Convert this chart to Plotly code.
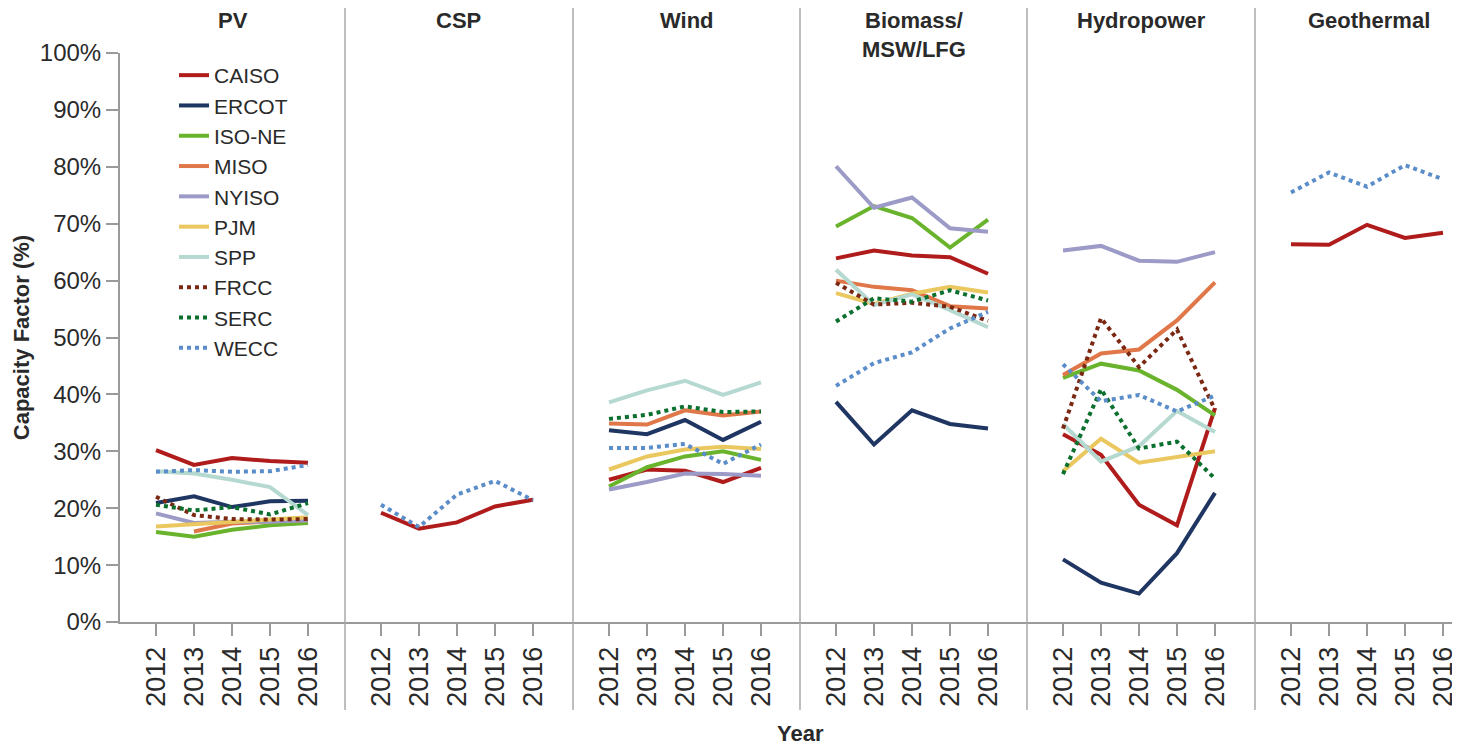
import plotly.graph_objects as go

years = [2012, 2013, 2014, 2015, 2016]

regions = ["CAISO", "ERCOT", "ISO-NE", "MISO", "NYISO", "PJM", "SPP", "FRCC", "SERC", "WECC"]

region_color = {
    "CAISO": "#B01C1C", "ERCOT": "#1F3562", "ISO-NE": "#6AB42D", "MISO": "#E07748",
    "NYISO": "#9C9AC6", "PJM": "#EBC85F", "SPP": "#B5D9D0", "FRCC": "#7B2812",
    "SERC": "#0B6F2E", "WECC": "#5B8DC9",
}
dotted = ["FRCC", "SERC", "WECC"]

# capacity factors (%) by technology and region
pv = {
    "CAISO": [30.2, 27.6, 28.8, 28.3, 28.0],
    "ERCOT": [20.9, 22.1, 20.2, 21.2, 21.3],
    "ISO-NE": [15.8, 15.0, 16.2, 17.0, 17.4],
    "MISO": [None, 15.9, 17.3, 17.7, 17.9],
    "NYISO": [19.1, 17.4, 17.6, 17.6, 17.9],
    "PJM": [16.8, 17.2, 17.6, 18.0, 18.4],
    "SPP": [26.5, 26.1, 25.0, 23.7, 18.8],
    "FRCC": [22.0, 18.8, 18.1, 18.0, 18.1],
    "SERC": [20.6, 19.6, 20.2, 18.9, 20.9],
    "WECC": [26.4, 26.7, 26.4, 26.5, 27.6],
}
csp = {
    "CAISO": [19.2, 16.4, 17.5, 20.3, 21.5],
    "WECC": [20.6, 16.7, 22.4, 24.8, 21.4],
}
wind = {
    "CAISO": [25.0, 26.8, 26.6, 24.6, 27.1],
    "ERCOT": [33.7, 33.0, 35.5, 32.0, 35.2],
    "ISO-NE": [23.8, 27.2, 29.1, 30.0, 28.5],
    "MISO": [34.9, 34.7, 37.2, 36.3, 37.0],
    "NYISO": [23.3, 24.6, 26.1, 26.0, 25.7],
    "PJM": [26.8, 29.1, 30.3, 30.8, 30.4],
    "SPP": [38.6, 40.7, 42.4, 39.9, 42.1],
    "SERC": [35.7, 36.4, 37.9, 36.9, 37.0],
    "WECC": [30.6, 30.6, 31.3, 27.8, 31.2],
}
biomass = {
    "CAISO": [63.9, 65.3, 64.4, 64.1, 61.2],
    "ERCOT": [38.7, 31.2, 37.2, 34.8, 34.0],
    "ISO-NE": [69.5, 73.1, 71.0, 65.8, 70.7],
    "MISO": [60.0, 58.9, 58.3, 55.5, 55.1],
    "NYISO": [80.1, 72.8, 74.6, 69.2, 68.6],
    "PJM": [57.8, 55.9, 57.7, 58.9, 57.9],
    "SPP": [61.9, 55.7, 57.6, 54.8, 51.8],
    "FRCC": [59.6, 55.8, 56.1, 55.4, 52.9],
    "SERC": [52.8, 56.9, 56.3, 58.3, 56.5],
    "WECC": [41.5, 45.5, 47.4, 51.6, 54.5],
}
hydro = {
    "CAISO": [33.0, 29.4, 20.6, 17.0, 37.6],
    "ERCOT": [11.0, 6.9, 5.0, 12.1, 22.7],
    "ISO-NE": [42.9, 45.4, 44.2, 40.8, 36.3],
    "MISO": [43.4, 47.2, 47.9, 53.0, 59.7],
    "NYISO": [65.3, 66.1, 63.5, 63.3, 65.0],
    "PJM": [26.5, 32.2, 28.0, 29.0, 30.0],
    "SPP": [34.8, 28.2, 30.9, 37.1, 33.4],
    "FRCC": [34.0, 53.4, 44.8, 51.4, 37.3],
    "SERC": [26.0, 40.9, 30.5, 31.7, 25.2],
    "WECC": [45.3, 38.8, 39.9, 37.0, 39.8],
}
geothermal = {
    "CAISO": [66.4, 66.3, 69.8, 67.5, 68.4],
    "WECC": [75.5, 79.0, 76.5, 80.3, 77.8],
}

y_ticks = [0, 10, 20, 30, 40, 50, 60, 70, 80, 90, 100]

panels = [("PV", pv), ("CSP", csp), ("Wind", wind), ("Biomass/<br>MSW/LFG", biomass),
          ("Hydropower", hydro), ("Geothermal", geothermal)]

# page puts the figure 8px in from the top-left, so lay out in screen px minus that
OFF = 8
W, H = 1460 - OFF, 746 - OFF
ML, MR, MT, MB = 120 - OFF, 0, 53 - OFF, H - (622 - OFF)
edges = [120, 345, 573, 800, 1027, 1255, 1460 + 22]
step = 38.0  # px per year
first_off = 36.0
axis_grey = "#9a9a9a"
text_col = "#2a2a2a"
font_fam = "Liberation Sans, Arial, sans-serif"

pw = W - ML - MR
ph = H - MT - MB


def px_x(sx):
    return (sx - OFF - ML) / pw


def px_y(sy):
    return (H - MB - (sy - OFF)) / ph


fig = go.Figure()
shown = set()
for i, (title, data) in enumerate(panels):
    xname = "x" if i == 0 else "x%d" % (i + 1)
    for reg in regions:
        if reg not in data:
            continue
        fig.add_trace(go.Scatter(
            x=years, y=data[reg], xaxis=xname, yaxis="y", mode="lines", name=reg,
            legendgroup=reg, showlegend=reg not in shown,
            line=dict(color=region_color[reg], width=4,
                      dash="dot" if reg in dotted else "solid"),
        ))
        shown.add(reg)

    x0, x1 = edges[i], min(edges[i + 1], 1460)
    lo = years[0] - first_off / step
    hi = lo + (x1 - x0) / step
    ax = dict(
        domain=[px_x(x0), px_x(x1)], anchor="y", range=[lo, hi],
        showline=True, linecolor=axis_grey, linewidth=2, showgrid=False, zeroline=False,
        ticks="outside", ticklen=12, tickwidth=2, tickcolor=axis_grey,
        tickvals=years, tickangle=-90, tickfont=dict(size=27, color=text_col, family=font_fam),
    )
    fig.layout["xaxis" if i == 0 else "xaxis%d" % (i + 1)] = ax

    fig.add_annotation(
        text="<b>%s</b>" % title, xref="paper", yref="paper",
        x=px_x((edges[i] + edges[i + 1]) / 2), y=px_y(6), xanchor="center", yanchor="top",
        showarrow=False, font=dict(size=22, color=text_col, family=font_fam),
    )

# panel separators
for xs in edges[1:-1]:
    fig.add_shape(type="line", xref="paper", yref="paper",
                  x0=px_x(xs), x1=px_x(xs), y0=px_y(710), y1=px_y(OFF),
                  line=dict(color="#a8a8a8", width=1.5))

fig.add_annotation(text="<b>Year</b>", xref="paper", yref="paper",
                   x=px_x(800), y=px_y(733), xanchor="center", yanchor="middle",
                   showarrow=False, font=dict(size=22, color=text_col, family=font_fam))

fig.update_layout(
    width=W, height=H, margin=dict(l=ML, r=MR, t=MT, b=MB, autoexpand=False),
    plot_bgcolor="white", paper_bgcolor="white",
    font=dict(family=font_fam, color=text_col),
    yaxis=dict(
        range=[0, 100], tickvals=y_ticks, ticktext=["%d%%" % v for v in y_ticks],
        showline=True, linecolor=axis_grey, linewidth=2, showgrid=False, zeroline=False,
        ticks="outside", ticklen=12, tickwidth=2, tickcolor=axis_grey,
        tickfont=dict(size=24, color=text_col),
        title=dict(text="<b>Capacity Factor (%)</b>", font=dict(size=22, color=text_col), standoff=4),
    ),
    legend=dict(
        x=px_x(174), y=px_y(55), xanchor="left", yanchor="top",
        bgcolor="rgba(0,0,0,0)", font=dict(size=21, color=text_col), tracegroupgap=0,
    ),
    showlegend=True,
)

fig.write_html("out.html")
